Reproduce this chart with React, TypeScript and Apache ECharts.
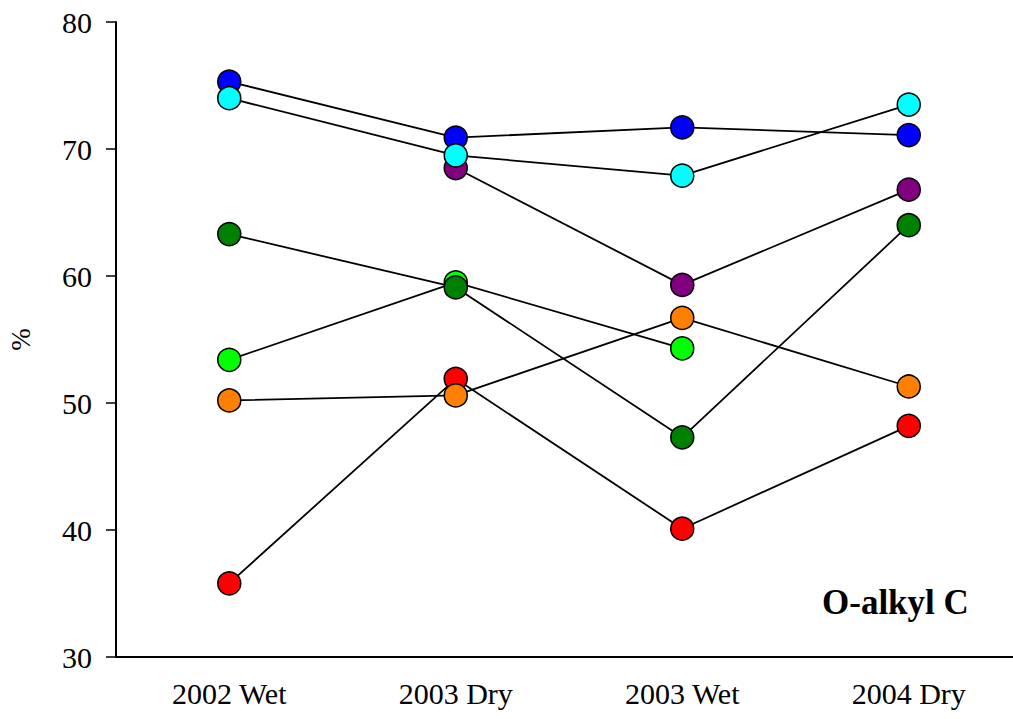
import React, { useEffect, useRef } from "react";
import * as echarts from "echarts";

const categories = ["2002 Wet", "2003 Dry", "2003 Wet", "2004 Dry"];
const redValues = [35.8, 51.9, 40.1, 48.2];
const lightGreenValues = [53.4, 59.5, 54.3, null];
const purpleValues = [null, 68.5, 59.3, 66.8];
const blueValues = [75.3, 70.9, 71.7, 71.1];
const orangeValues = [50.2, 50.6, 56.7, 51.3];
const darkGreenValues = [63.3, 59.1, 47.3, 64.0];
const cyanValues = [74.0, 69.5, 67.9, 73.5];
const yTicks = [30, 40, 50, 60, 70, 80];

const seriesDefs = [
  { name: "red", color: "#FF0000", data: redValues },
  { name: "lightgreen", color: "#00FF00", data: lightGreenValues },
  { name: "purple", color: "#800080", data: purpleValues },
  { name: "blue", color: "#0000FF", data: blueValues },
  { name: "orange", color: "#FF8000", data: orangeValues },
  { name: "darkgreen", color: "#008000", data: darkGreenValues },
  { name: "cyan", color: "#00FFFF", data: cyanValues },
];

const FONT = "'Liberation Serif', 'Times New Roman', serif";

export default function App() {
  const ref = useRef<HTMLDivElement>(null);
  useEffect(() => {
    if (!ref.current) return;
    const chart = echarts.init(ref.current, undefined, { renderer: "svg" });
    chart.setOption({
      animation: false,
      backgroundColor: "#ffffff",
      grid: { left: 116, top: 22, width: 906, bottom: 62, containLabel: false, outerBoundsMode: "none" },
      xAxis: {
        type: "category",
        data: categories,
        boundaryGap: true,
        axisLine: { lineStyle: { color: "#000", width: 2 } },
        axisTick: { alignWithLabel: true, length: 10, lineStyle: { color: "#000", width: 1.5 } },
        axisLabel: { color: "#000", fontFamily: FONT, fontSize: 30, margin: 21 },
        splitLine: { show: false },
      },
      yAxis: {
        type: "value",
        min: yTicks[0],
        max: yTicks[yTicks.length - 1],
        interval: 10,
        name: "%",
        nameLocation: "middle",
        nameGap: 82,
        nameTextStyle: { color: "#000", fontFamily: FONT, fontSize: 27 },
        axisLine: { show: true, lineStyle: { color: "#000", width: 2 } },
        axisTick: { show: true, length: 10, lineStyle: { color: "#000", width: 1.5 } },
        axisLabel: { color: "#000", fontFamily: FONT, fontSize: 30, margin: 24 },
        splitLine: { show: false },
      },
      graphic: [
        {
          type: "text",
          left: 822,
          top: 585,
          style: {
            text: "O-alkyl C",
            fontFamily: FONT,
            fontWeight: "bold",
            fontSize: 35,
            fill: "#000",
          },
        },
      ],
      series: seriesDefs.map((s) => ({
        name: s.name,
        type: "line",
        data: s.data,
        symbol: "circle",
        symbolSize: 23,
        showAllSymbol: true,
        connectNulls: false,
        lineStyle: { color: "#000", width: 1.8 },
        itemStyle: { color: s.color, borderColor: "#000", borderWidth: 1.5 },
        emphasis: { disabled: true },
      })),
    });
    return () => chart.dispose();
  }, []);
  return (
    <div style={{ position: "fixed", left: 0, top: 0, width: 1013, height: 719, overflow: "hidden", background: "#fff" }}>
      <div ref={ref} style={{ width: 1030, height: 719 }} />
    </div>
  );
}
